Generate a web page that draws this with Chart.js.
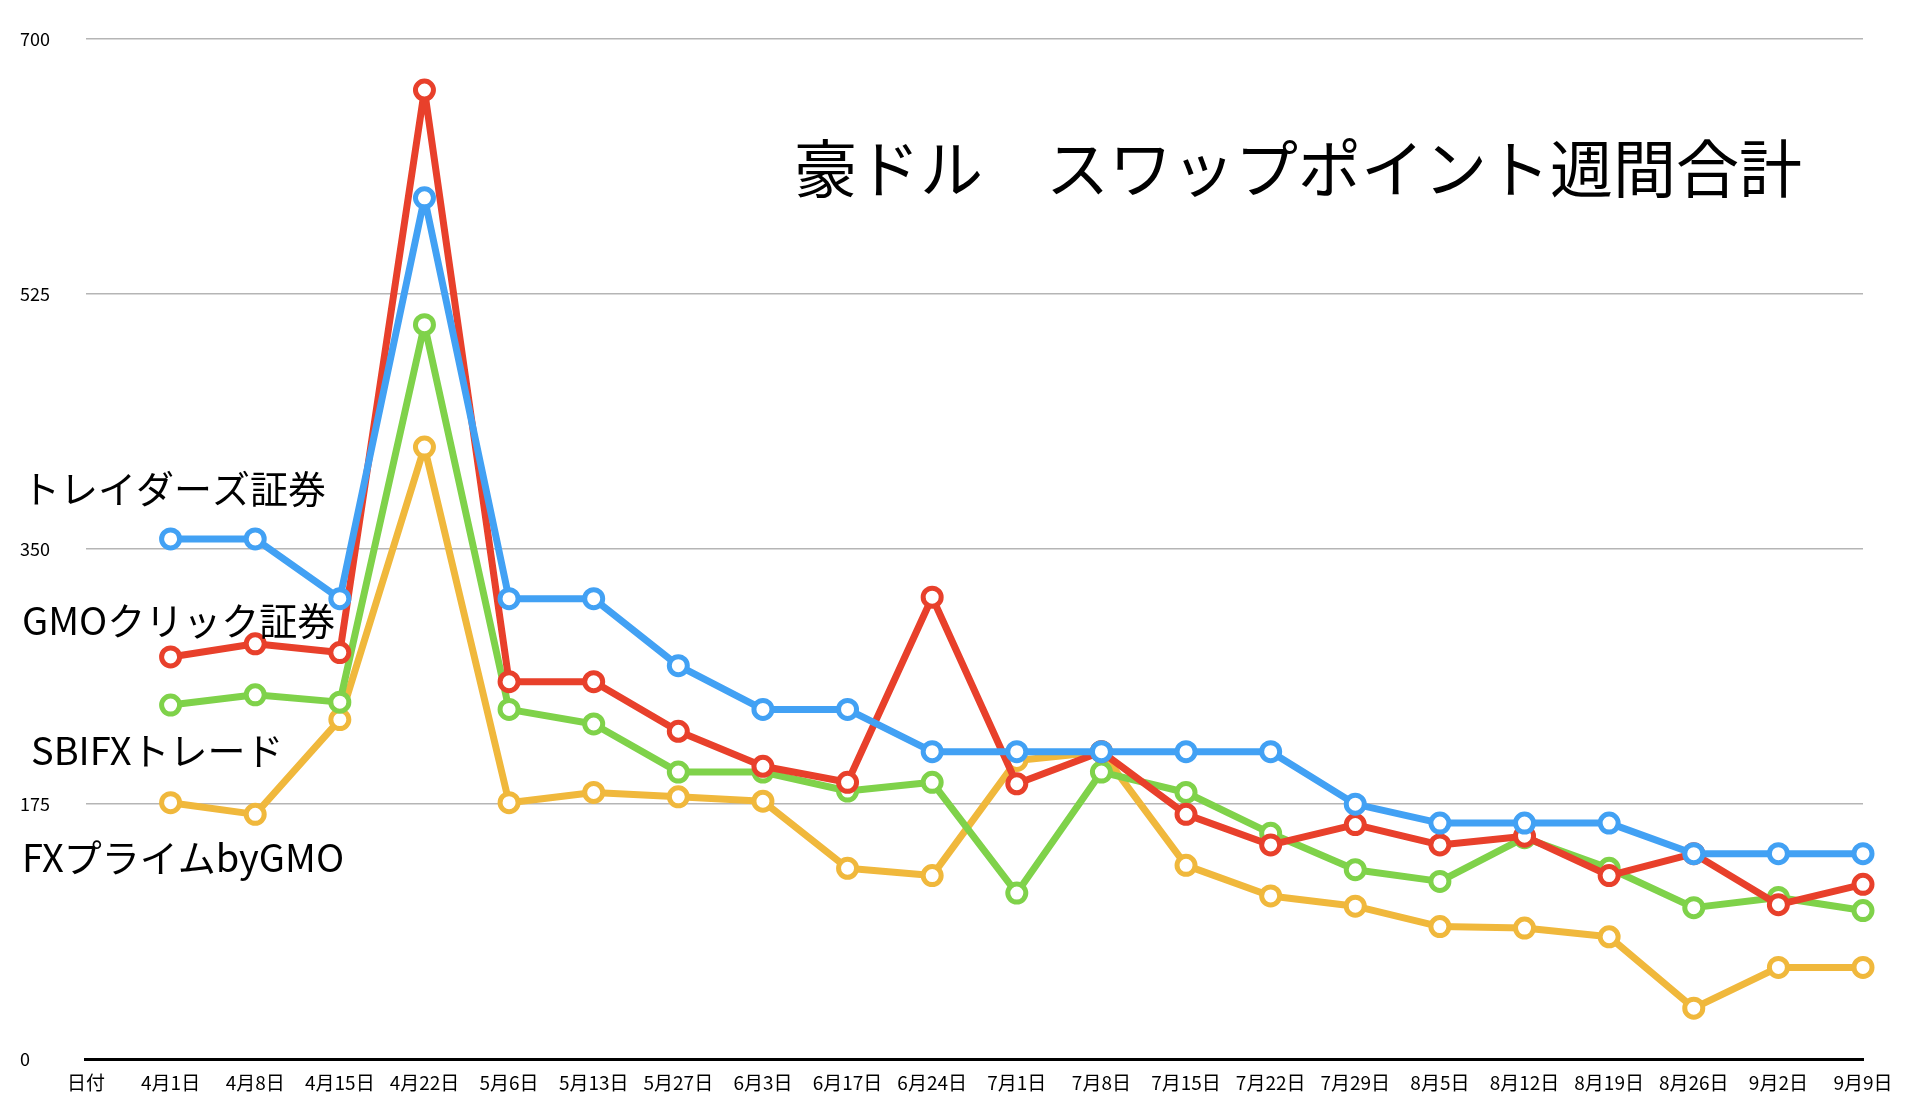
<!DOCTYPE html>
<html><head><meta charset="utf-8">
<script src="https://cdn.jsdelivr.net/npm/chart.js@4"></script>
<style>html,body{margin:0;padding:0;background:#fff}#w{width:1918px;height:1100px}</style>
</head><body><div id="w"><canvas id="c"></canvas></div>
<script>
const categories=["日付","4月1日","4月8日","4月15日","4月22日","5月6日","5月13日","5月27日","6月3日","6月17日","6月24日","7月1日","7月8日","7月15日","7月22日","7月29日","8月5日","8月12日","8月19日","8月26日","9月2日","9月9日"];
const seriesNames=["トレイダーズ証券","GMOクリック証券","SBIFXトレード","FXプライムbyGMO"];
const traders=[null,357,357,316,591,316,316,270,240,240,211,211,211,211,211,175,162,162,162,141,141,141];
const gmoClick=[null,276,285,279,665,259,259,225,201,190,317,189,211,168,147,161,147,153,126,141,106,120];
const sbi=[null,243,250,245,504,240,230,197,197,184,190,114,197,183,155,130,122,152,131,104,111,102];
const fxPrime=[null,176,168,233,420,176,183,180,177,131,126,205,211,133,112,105,91,90,84,35,63,63];
const yTicks=[0,175,350,525,700];
const title="豪ドル　スワップポイント週間合計";
const FONT='"Noto Sans CJK JP","Noto Sans",sans-serif';
function ds(label,data,color){return {label,data,borderColor:color,backgroundColor:'#fff',borderWidth:7,borderJoinStyle:'round',pointRadius:9,pointHoverRadius:9,pointBorderWidth:5,pointBackgroundColor:'#fff',pointBorderColor:color,tension:0};}
const textPlugin={id:'txt',afterDraw(ch){const c=ch.ctx;c.save();c.fillStyle='#000';c.textBaseline='middle';
c.font='63px '+FONT;c.textAlign='center';c.fillText(title,1298,168);
c.font='38px '+FONT;c.textAlign='left';
const pos=[[22,489],[22,621],[31,751],[22,858]];
seriesNames.forEach((n,i)=>c.fillText(n,pos[i][0],pos[i][1]));c.restore();}};
new Chart(document.getElementById('c'),{type:'line',
data:{labels:categories,datasets:[ds(seriesNames[0],traders,'#42a1f4'),ds(seriesNames[1],gmoClick,'#e8402b'),ds(seriesNames[2],sbi,'#7fd24a'),ds(seriesNames[3],fxPrime,'#f0b83c')]},
options:{responsive:true,maintainAspectRatio:false,animation:false,
layout:{padding:{left:20,right:55,top:39,bottom:2}},
plugins:{legend:{display:false},tooltip:{enabled:false}},
scales:{x:{offset:false,grid:{display:false},border:{color:'#000',width:3},ticks:{color:'#000',font:{size:19,family:FONT},maxRotation:0,autoSkip:false,padding:4}},
y:{min:0,max:700,afterBuildTicks(a){a.ticks=yTicks.map(v=>({value:v}));},grid:{color:'#b5b5b5',lineWidth:1.5,drawTicks:false},border:{display:false},ticks:{color:'#000',font:{size:18,family:FONT},padding:18,crossAlign:'far'}}}},
plugins:[textPlugin]});
</script></body></html>
